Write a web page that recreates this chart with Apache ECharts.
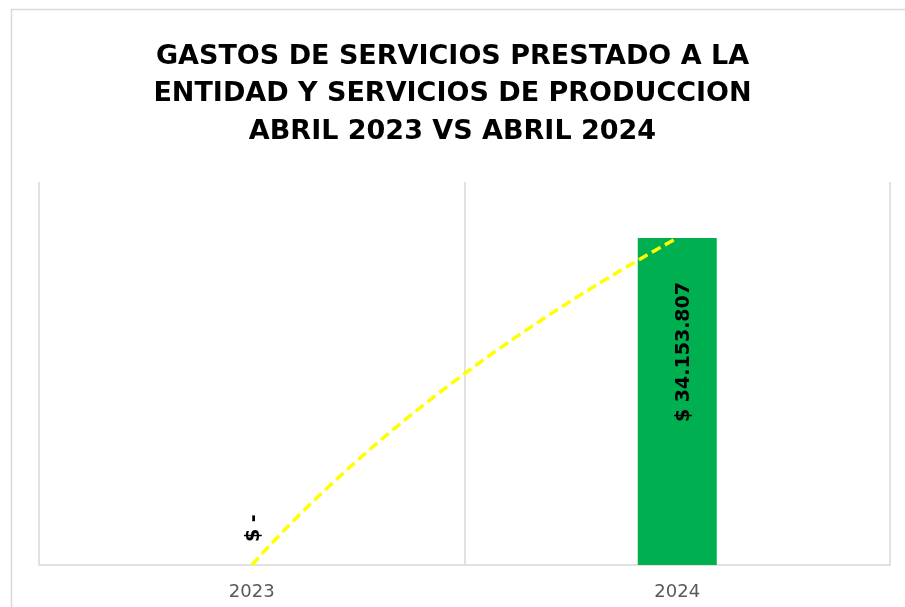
<!DOCTYPE html>
<html>
<head>
<meta charset="utf-8" />
<script src="https://cdn.jsdelivr.net/npm/echarts@6/dist/echarts.min.js"></script>
<style>
  html, body { margin: 0; padding: 0; background: #ffffff; }
  #main { width: 905px; height: 607px; }
</style>
</head>
<body>
<div id="main"></div>
<script>
// data
var years = ["2023", "2024"];
var gastos = [0, 34153807];
var labels = ["$ -", "$ 34.153.807"];

var chart = echarts.init(document.getElementById("main"), null, { renderer: "canvas" });

// excel style log trendline through the bar values: y = a + b*ln(x)
function trendValue(x) {
  var b = (gastos[1] - gastos[0]) / Math.log(2);
  return gastos[0] + b * Math.log(x);
}

var option = {
  animation: false,
  backgroundColor: "#ffffff",
  title: {
    text: "GASTOS DE SERVICIOS PRESTADO A LA\nENTIDAD Y SERVICIOS DE PRODUCCION\nABRIL 2023 VS ABRIL 2024",
    left: "center",
    top: 33,
    textStyle: {
      fontFamily: "DejaVu Sans",
      fontWeight: "bold",
      fontSize: 27,
      lineHeight: 37.5,
      color: "#000000",
    },
  },
  graphic: [
    {
      type: "rect",
      shape: { x: 11.5, y: 9.5, width: 1000, height: 1000 },
      style: { fill: null, stroke: "#d9d9d9", lineWidth: 1.5 },
      silent: true,
    },
  ],
  grid: { left: 39, right: 15, top: 182, bottom: 42 },
  xAxis: [
    {
      type: "category",
      data: years,
      axisLine: { lineStyle: { color: "#d9d9d9", width: 1.5 } },
      axisTick: { show: false },
      splitLine: { show: true, lineStyle: { color: "#d9d9d9", width: 1.5 } },
      axisLabel: {
        color: "#595959",
        fontFamily: "DejaVu Sans",
        fontSize: 18,
        margin: 18,
      },
    },
    {
      type: "value",
      min: 0.5,
      max: 2.5,
      show: false,
    },
  ],
  yAxis: {
    type: "value",
    min: 0,
    max: 40000000,
    show: false,
    splitLine: { show: false },
  },
  series: [
    {
      type: "bar",
      barWidth: 79,
      itemStyle: { color: "#00B050" },
      data: [
        {
          value: gastos[0],
          label: {
            show: true,
            position: "insideBottom",
            rotate: 90,
            align: "left",
            verticalAlign: "middle",
            distance: 23,
            offset: [0, 2],
            formatter: labels[0],
            color: "#000000",
            fontFamily: "DejaVu Sans",
            fontWeight: "bold",
            fontSize: 19,
          },
        },
        {
          value: gastos[1],
          label: {
            show: true,
            position: "insideTop",
            rotate: 90,
            align: "right",
            verticalAlign: "middle",
            distance: 44,
            offset: [0, 7],
            formatter: labels[1],
            color: "#000000",
            fontFamily: "DejaVu Sans",
            fontWeight: "bold",
            fontSize: 19,
          },
        },
      ],
    },
    {
      type: "custom",
      xAxisIndex: 1,
      yAxisIndex: 0,
      silent: true,
      z: 10,
      data: [[1, gastos[0]]],
      renderItem: function (params, api) {
        var pts = [];
        for (var i = 0; i <= 50; i++) {
          var x = 1 + i / 50;
          pts.push(api.coord([x, trendValue(x)]));
        }
        return {
          type: "polyline",
          shape: { points: pts },
          style: {
            fill: null,
            stroke: "#FFFF00",
            lineWidth: 3.5,
            lineDash: [10, 5],
          },
        };
      },
    },
  ],
};

chart.setOption(option);
</script>
</body>
</html>
